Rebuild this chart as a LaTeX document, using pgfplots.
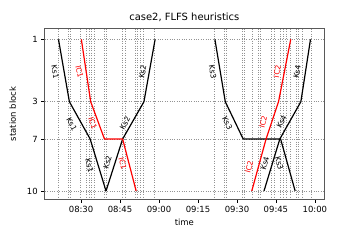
\documentclass[border=0pt]{standalone}
\usepackage{fontspec}
\setmainfont{DejaVu Sans}
\usepackage{pgfplots}
\pgfplotsset{compat=1.18}
\begin{document}
\begin{tikzpicture}
\path[use as bounding box] (-44.7bp,-41bp) rectangle (315.3bp,199bp);
\begin{axis}[
  at={(0,0)}, anchor=south west, scale only axis,
  width=279.3bp, height=170.3bp,
  xmin=16, xmax=123.5, ymin=-10.6, ymax=159.7, y dir=reverse,
  xtick={30,45,60,75,90,105,120},
  xticklabels={08:30,08:45,09:00,09:15,09:30,09:45,10:00},
  ytick={0,62.4,99.7,151.7}, yticklabels={1,3,7,10},
  ymajorgrids,
  grid style={dash pattern=on 0.8bp off 1.6bp, gray!85, line width=0.7bp},
  extra x ticks={21.2,25,26,29.6,32,33,34,35,38.9,39.9,46,47,50.7,51.7,53,54,58.1,81.4,85,86,91.9,93,96,98.1,99.1,103.2,104.2,106.8,107.8,108.9,110.4,112.7,113.7,115,118.8},
  extra x tick labels={},
  extra x tick style={grid=major, major tick length=0pt},
  tick align=outside, tick pos=left,
  major tick length=3.5bp,
  axis line style={gray!70!black, line width=0.8bp},
  tick style={black, line width=0.6bp},
  tick label style={font=\fontsize{8.5}{10}\selectfont},
  label style={font=\fontsize{8.5}{10}\selectfont},
  title style={font=\fontsize{10}{12}\selectfont, yshift=-2.5bp},
  title={case2, FLFS heuristics},
  xlabel={time}, ylabel={station block},
  xlabel style={yshift=4bp},
  ylabel style={yshift=4bp},
  clip=false,
]
% Ks1
\addplot[black, line width=1.2bp] coordinates {(21.3,0) (25.5,62.4) (33.5,99.7) (39.6,151.7)};
% Ks2
\addplot[black, line width=1.2bp] coordinates {(39.6,151.7) (46,99.7) (54.2,62.4) (58.5,0)};
% IC1
\addplot[red, line width=1.2bp] coordinates {(30.1,0) (33.7,62.4) (39,99.7) (46,99.7) (51.2,151.7)};
% Ks3
\addplot[black, line width=1.2bp] coordinates {(81.5,0) (85.5,62.4) (92.4,99.7) (106.8,99.7) (112.4,151.7)};
% Ks4
\addplot[black, line width=1.2bp] coordinates {(100.4,151.7) (106.5,99.7) (114.6,62.4) (118.3,0)};
% IC2
\addplot[red, line width=1.2bp] coordinates {(95.7,151.7) (101.2,99.7) (106,62.4) (110.7,0)};

\begin{scope}[every node/.style={font=\fontsize{7.5}{9}\selectfont, inner sep=0pt}]
\node[rotate=-80] at (axis cs:20,32.4) {Ks1};
\node[rotate=-78, red] at (axis cs:29.35,32.4) {IC1};
\node[rotate=80] at (axis cs:53.7,32.4) {Ks2};
\node[rotate=-62] at (axis cs:26.4,84.7) {Ks1};
\node[rotate=-70, red] at (axis cs:34.5,84) {IC1};
\node[rotate=62] at (axis cs:46.9,84) {Ks2};
\node[rotate=-75] at (axis cs:33.2,126.5) {Ks1};
\node[rotate=75] at (axis cs:40.2,123) {Ks2};
\node[rotate=-75, red] at (axis cs:46,124) {IC1};
\node[rotate=-80] at (axis cs:80.65,32.4) {Ks3};
\node[rotate=80, red] at (axis cs:105.5,32.4) {IC2};
\node[rotate=80] at (axis cs:113.2,32.4) {Ks4};
\node[rotate=-62] at (axis cs:86.3,84) {Ks3};
\node[rotate=75, red] at (axis cs:100.1,82.4) {IC2};
\node[rotate=65] at (axis cs:107.2,82.4) {Ks4};
\node[rotate=75, red] at (axis cs:94.7,127.4) {IC2};
\node[rotate=75] at (axis cs:100.8,124) {Ks4};
\node[rotate=-75] at (axis cs:106.3,124) {Ks3};
\end{scope}
\end{axis}
\end{tikzpicture}
\end{document}
